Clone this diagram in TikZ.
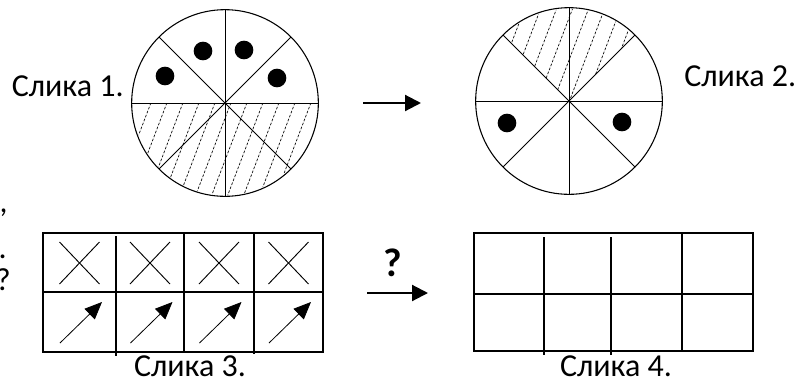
\documentclass[tikz,border=0pt]{standalone}
\usepackage{fontspec}
\setmainfont{Carlito}
\usetikzlibrary{arrows.meta, positioning}

\begin{document}
\begin{tikzpicture}[x=0.75pt, y=-0.75pt,
    every node/.style={font=\fontsize{24}{28}\selectfont, inner sep=0pt},
    disc/.style={circle, draw, line width=0.8pt, minimum size=140pt,
                 inner sep=0pt, outer sep=0pt},
    dot/.style={circle, fill, minimum size=14pt, inner sep=0pt, outer sep=0pt},
    spoke/.style={line width=0.7pt},
    hatch/.style={line width=0.5pt, dash pattern=on 2pt off 1.2pt},
    tbl/.style={line width=0.9pt},
    bigarr/.style={-{Triangle[length=12pt,width=12pt]}, line width=1.6pt},
    cellarr/.style={-{Triangle[length=13pt,width=11pt]}, line width=0.6pt},
]
\useasboundingbox (0,0) rectangle (804,383);

% ===== TOP: two circles =====
\node[disc] (c1) at (225,103) {};
\node[disc] (c2) at (569,101) {};

% spokes
\foreach \c in {c1,c2} {
  \draw[spoke] (\c.north) -- (\c.south);
  \draw[spoke] (\c.west) -- (\c.east);
  \draw[spoke] (\c.north west) -- (\c.south east);
  \draw[spoke] (\c.north east) -- (\c.south west);
}

% hatching, lower half of circle 1
\begin{scope}
  \clip (c1.center) circle[radius=92];
  \clip (120,103) rectangle (330,210);
  \foreach \x in {112,128,...,330}
    \draw[hatch] (\x,205) -- ++(40,-105);
\end{scope}

% hatching, top wedge of circle 2
\begin{scope}
  \clip (c2.center) circle[radius=92];
  \clip (c2.center) -- (469,1) -- (669,1) -- cycle;
  \foreach \x in {470,486,...,660}
    \draw[hatch] (\x,110) -- ++(40,-105);
\end{scope}

% dots
\node[dot] (d1) at (165,76) {};
\node[dot] (d2) at (203,51) {};
\node[dot] (d3) at (244,50) {};
\node[dot] (d4) at (277,78) {};
\node[dot] (d5) at (507,123) {};
\node[dot] (d6) at (622,122) {};

% arrow between circles
\coordinate (a1) at (363,103);
\coordinate (a2) at (421,103);
\draw[bigarr] (a1) -- (a2);

% labels
\node[anchor=base east] (lbl1) at (124,96) {Слика 1.};
\node[anchor=base west] (lbl2) at (684,86) {Слика 2.};

% ===== BOTTOM: two tables =====
% table 3
\draw[tbl] (43,233) rectangle (323,352);
\draw[tbl] (43,292) -- (323,292);
\draw[tbl] (116,236) -- (116,356);
\draw[tbl] (184,233) -- (184,352);
\draw[tbl] (254,234) -- (254,354);
\foreach \cx in {79.5,150,219,288.5} {
  \draw[spoke] ({\cx-20},242) -- ({\cx+20},284);
  \draw[spoke] ({\cx-20},284) -- ({\cx+20},242);
  \draw[cellarr] ({\cx-19.5},343) -- ({\cx+22.5},302);
}

% table 4
\draw[tbl] (474,233) rectangle (753,351);
\draw[tbl] (474,294) -- (754,294);
\draw[tbl] (544,237) -- (544,355);
\draw[tbl] (611,237) -- (611,355);
\draw[tbl] (682,233) -- (682,351);

% arrow with question mark
\coordinate (b1) at (367,293);
\coordinate (b2) at (428,293);
\draw[bigarr] (b1) -- (b2);
\node[font=\bfseries\fontsize{30}{34}\selectfont, anchor=base] (q) at (393,276) {?};

\node[anchor=base] (lbl3) at (190,376) {Слика 3.};
\node[anchor=base] (lbl4) at (616,376) {Слика 4.};

% cut-off text on the left
\node[anchor=base east] (fr1) at (8,212) {,};
\node[anchor=base east] (fr2) at (7,258) {.};
\node[anchor=base east] (fr3) at (11,290) {?};

\end{tikzpicture}
\end{document}
